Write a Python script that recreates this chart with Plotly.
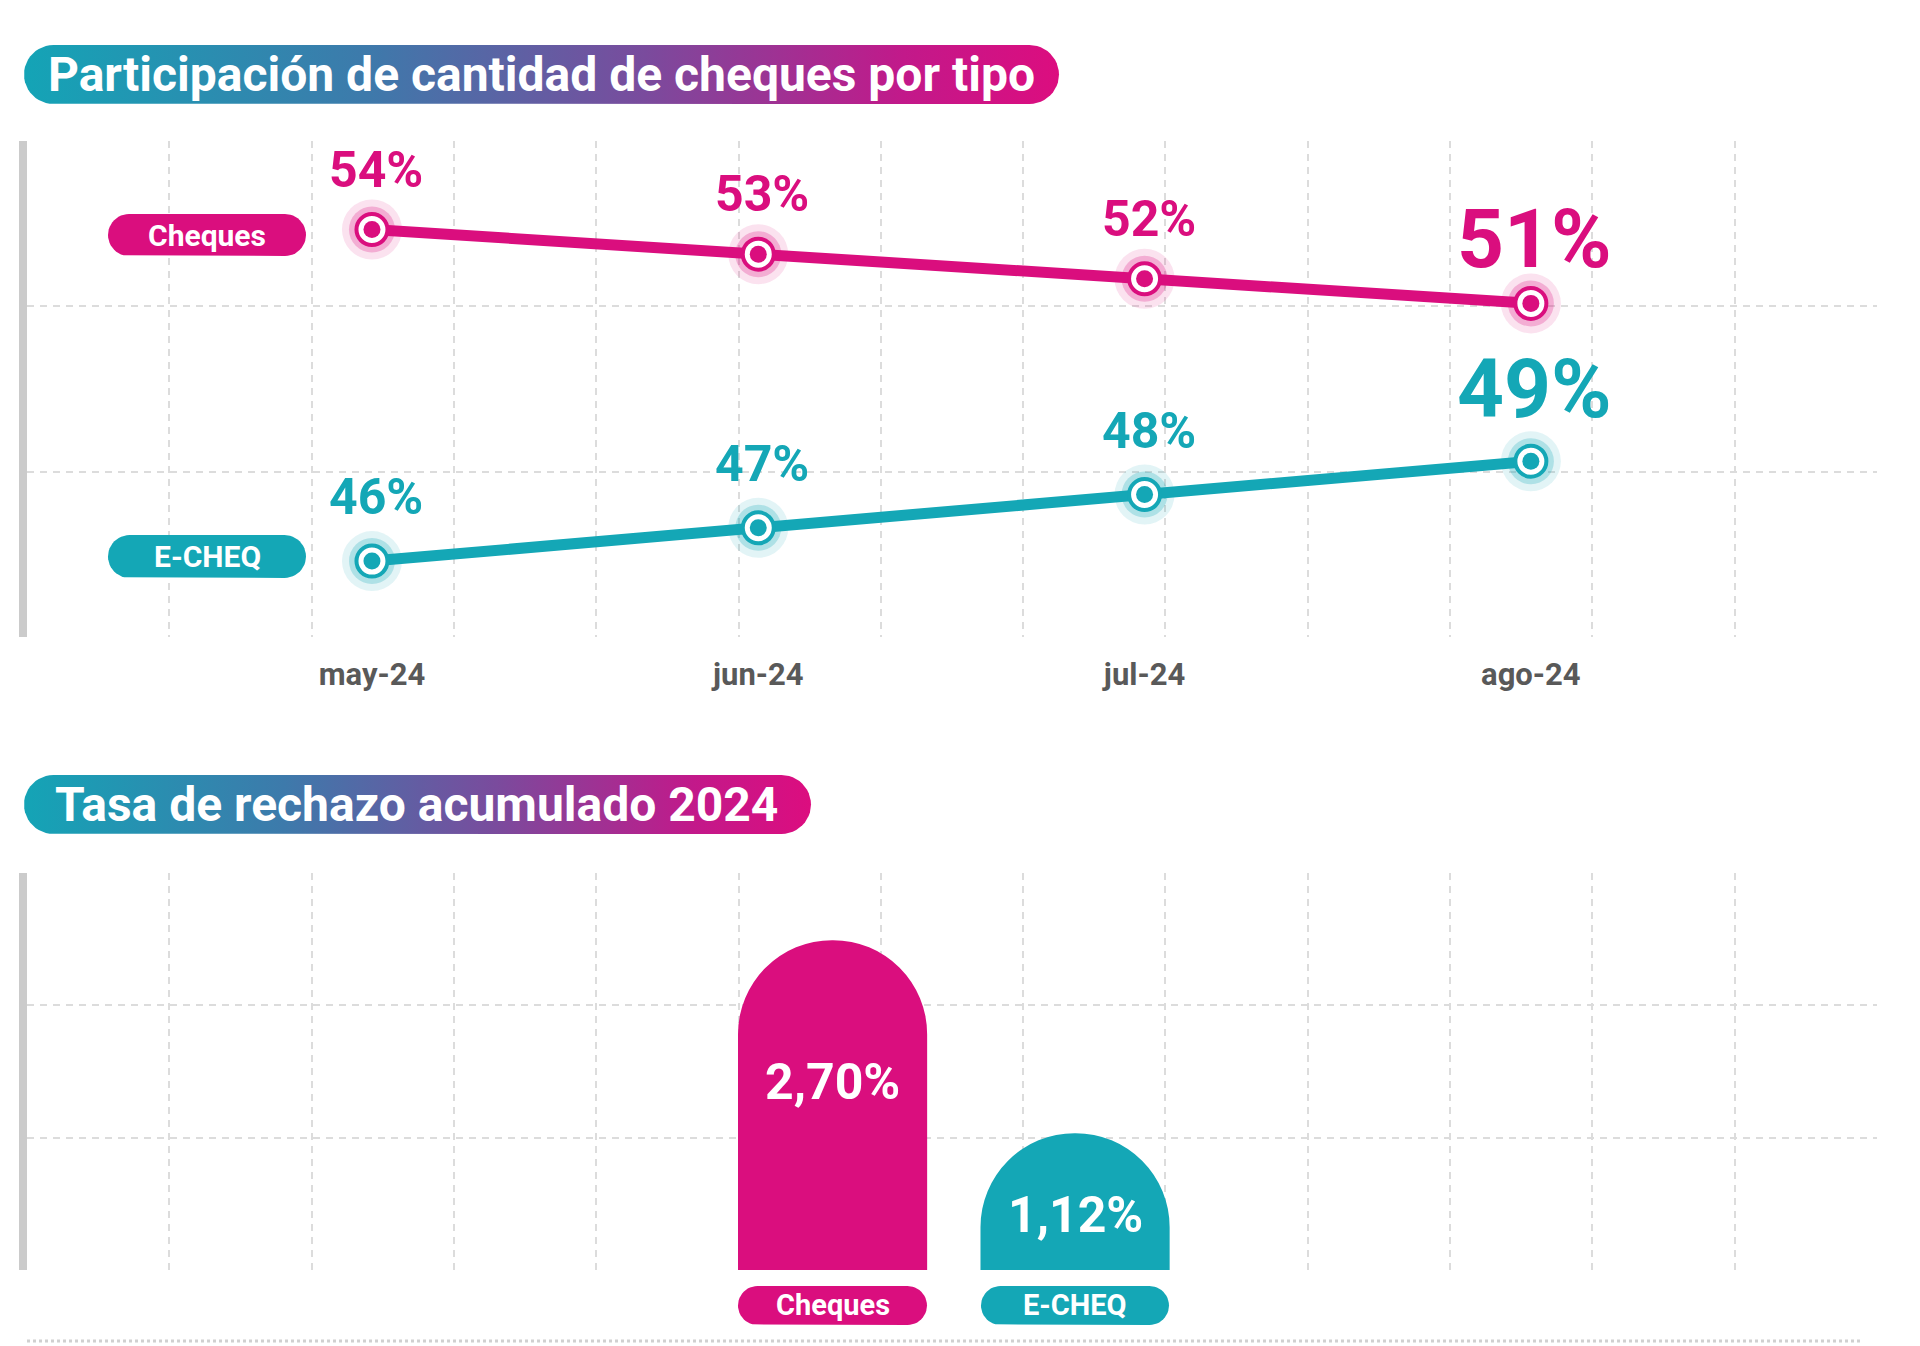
import plotly.graph_objects as go

# ---------------- data ----------------
months = ["may-24", "jun-24", "jul-24", "ago-24"]
cheques_share = [54, 53, 52, 51]
echeq_share = [46, 47, 48, 49]
series_names = ["Cheques", "E-CHEQ"]
rejection_rate = [2.70, 1.12]
title_top = "Participación de cantidad de cheques por tipo"
title_bottom = "Tasa de rechazo acumulado 2024"

# ---------------- style ----------------
W, H = 1920, 1346
PINK = "#da0e7e"
TEAL = "#14a7b6"
GRID = "#dcdcdc"
AXIS = "#cbcbcb"
FONT = "Roboto"


def rgba(hexc, a):
    hexc = hexc.lstrip("#")
    r, g, b = int(hexc[0:2], 16), int(hexc[2:4], 16), int(hexc[4:6], 16)
    return f"rgba({r},{g},{b},{a})"


def pill(x0, x1, y0, y1, n=24):
    import math
    r = (y1 - y0) / 2.0
    cy = (y0 + y1) / 2.0
    xs, ys = [], []
    for k in range(n + 1):
        a = -math.pi / 2 + math.pi * k / n
        xs.append(x1 - r + r * math.cos(a))
        ys.append(cy + r * math.sin(a))
    for k in range(n + 1):
        a = math.pi / 2 + math.pi * k / n
        xs.append(x0 + r + r * math.cos(a))
        ys.append(cy + r * math.sin(a))
    xs.append(xs[0])
    ys.append(ys[0])
    return xs, ys


fig = go.Figure()

# ---------- top chart: line chart ----------
x_idx = list(range(len(months)))
series = [
    (series_names[0], cheques_share, PINK, "y", 60, 64),
    (series_names[1], echeq_share, TEAL, "y2", 64, 72),
]
for name, vals, color, yref, shift_small, shift_big in series:
    fig.add_trace(go.Scatter(x=x_idx, y=vals, yaxis=yref, mode="markers",
                             marker=dict(size=60, color=rgba(color, 0.12), line=dict(width=0)),
                             hoverinfo="skip", showlegend=False))
    fig.add_trace(go.Scatter(x=x_idx, y=vals, yaxis=yref, mode="markers",
                             marker=dict(size=46, color=rgba(color, 0.25), line=dict(width=0)),
                             hoverinfo="skip", showlegend=False))
    fig.add_trace(go.Scatter(x=x_idx, y=vals, yaxis=yref, mode="lines",
                             line=dict(color=color, width=11), name=name, showlegend=False))
    fig.add_trace(go.Scatter(x=x_idx, y=vals, yaxis=yref, mode="markers",
                             marker=dict(size=31, color="white", line=dict(width=4, color=color)),
                             hoverinfo="skip", showlegend=False))
    fig.add_trace(go.Scatter(x=x_idx, y=vals, yaxis=yref, mode="markers",
                             marker=dict(size=17, color=color, line=dict(width=0)),
                             hoverinfo="skip", showlegend=False))
    for i, v in enumerate(vals):
        last = i == len(vals) - 1
        fig.add_annotation(x=i, y=v, xref="x", yref=yref, text=f"<b>{v}%</b>",
                           showarrow=False, xanchor="center", yanchor="middle", xshift=4,
                           yshift=shift_big if last else shift_small,
                           font=dict(family=FONT, size=82 if last else 50, color=color))

# invisible trace to anchor the vertical-grid overlay axis
fig.add_trace(go.Scatter(x=[0], y=[cheques_share[0]], xaxis="x2", yaxis="y", mode="markers",
                         marker=dict(opacity=0), hoverinfo="skip", showlegend=False))

# ---------- bottom chart: bars ----------
fig.add_trace(go.Bar(x=series_names, y=rejection_rate, xaxis="x3", yaxis="y3",
                     marker=dict(color=[PINK, TEAL], cornerradius="50%", line=dict(width=0)),
                     width=0.78, hoverinfo="skip", showlegend=False))
label_pos = [0.57, 0.40]  # relative height of the value label inside each bar
for name, v, rel in zip(series_names, rejection_rate, label_pos):
    txt = f"{v:.2f}".replace(".", ",") + "%"
    fig.add_annotation(x=name, y=v * rel, xref="x3", yref="y3", text=f"<b>{txt}</b>",
                       showarrow=False, xanchor="center", yanchor="middle",
                       font=dict(family=FONT, size=50, color="white"))
fig.add_trace(go.Scatter(x=[0], y=[0], xaxis="x4", yaxis="y3", mode="markers",
                         marker=dict(opacity=0), hoverinfo="skip", showlegend=False))

# ---------- decorative pills (pixel overlay axes) ----------
title_grad = dict(type="horizontal",
                  colorscale=[[0, "#14a4b6"], [0.33, "#3d7aab"], [0.6, "#7a4b9d"],
                              [0.85, "#c2198a"], [1, "#dc0d7f"]])
for (x0, x1, y0, y1) in [(24, 1059, 45, 104), (24, 811, 775, 834)]:
    xs, ys = pill(x0, x1, y0, y1)
    fig.add_trace(go.Scatter(x=xs, y=ys, xaxis="x5", yaxis="y5", mode="lines",
                             line=dict(width=0), fill="toself", fillgradient=title_grad,
                             hoverinfo="skip", showlegend=False))

pill_boxes = [
    ((108, 306, 214, 256), PINK),
    ((108, 306, 535, 578), TEAL),
    ((738, 927, 1286, 1325), PINK),
    ((981, 1169, 1286, 1325), TEAL),
]
for (x0, x1, y0, y1), color in pill_boxes:
    xs, ys = pill(x0, x1, y0, y1)
    fig.add_trace(go.Scatter(x=xs, y=ys, xaxis="x5", yaxis="y5", mode="lines",
                             line=dict(width=0), fill="toself", fillcolor=color,
                             hoverinfo="skip", showlegend=False))

common_ann = dict(showarrow=False, xanchor="center", yanchor="middle", xref="paper", yref="paper")
# titles
fig.add_annotation(x=541 / W, y=1 - 74 / H, text=f"<b>{title_top}</b>",
                   font=dict(family=FONT, size=48, color="white"), **common_ann)
fig.add_annotation(x=416 / W, y=1 - 804 / H, text=f"<b>{title_bottom}</b>",
                   font=dict(family=FONT, size=48, color="white"), **common_ann)
# series labels (top)
fig.add_annotation(x=207 / W, y=1 - 235 / H, text=f"<b>{series_names[0]}</b>",
                   font=dict(family=FONT, size=30, color="white"), **common_ann)
fig.add_annotation(x=207 / W, y=1 - 556 / H, text=f"<b>{series_names[1]}</b>",
                   font=dict(family=FONT, size=30, color="white"), **common_ann)
# category labels (bottom)
for name in series_names:
    fig.add_annotation(x=name, xref="x3", y=1 - 1305 / H, yref="paper", text=f"<b>{name}</b>",
                       showarrow=False, xanchor="center", yanchor="middle",
                       font=dict(family=FONT, size=29, color="white"))

# bottom dotted rule
fig.add_shape(type="line", xref="paper", yref="paper", x0=27 / W, x1=1861 / W,
              y0=1 - 1341 / H, y1=1 - 1341 / H, line=dict(color="#d0d0d0", width=3, dash="dot"))

# ---------------- axes ----------------
XDOM = [27 / W, 1877 / W]
TOP_DOM = [1 - 637 / H, 1 - 141 / H]
BOT_DOM = [1 - 1270 / H, 1 - 873 / H]

# Cheques scale
c_lo, c_hi = 37.44, 57.60
c_d = (c_hi - c_lo) / 3
# E-CHEQ scale
e_lo, e_hi = 43.72, 58.62
# bar scale
b_hi = 3.25
b_d = b_hi / 3
eps = 1e-6

grid_common = dict(showgrid=True, gridcolor=GRID, gridwidth=2, griddash="7px,6px", zeroline=False)

fig.update_layout(
    width=W, height=H,
    margin=dict(l=0, r=0, t=0, b=0),
    paper_bgcolor="white", plot_bgcolor="rgba(0,0,0,0)",
    showlegend=False,
    xaxis=dict(domain=XDOM, anchor="y", range=[-0.893, 3.896], tickvals=x_idx, ticktext=months,
               showgrid=False, zeroline=False, showline=False, ticks="outside", ticklen=10,
               tickcolor="rgba(0,0,0,0)",
               tickfont=dict(family=FONT, size=31, color="#595959", weight="bold")),
    xaxis2=dict(overlaying="x", anchor="y", range=[0 - eps, 13 + eps], tick0=0, dtick=1,
                showticklabels=False, ticks="", showline=False, **grid_common),
    yaxis=dict(domain=TOP_DOM, anchor="x", range=[c_lo - eps, c_hi + eps], tick0=c_lo, dtick=c_d,
               showticklabels=False, ticks="", showline=True, linecolor=AXIS, linewidth=8,
               **grid_common),
    yaxis2=dict(overlaying="y", anchor="x", range=[e_lo, e_hi], showgrid=False, zeroline=False,
                showticklabels=False, ticks="", showline=False),
    xaxis3=dict(domain=XDOM, anchor="y3", range=[-3.322, 4.307], showticklabels=False, ticks="",
                showgrid=False, zeroline=False, showline=False),
    xaxis4=dict(overlaying="x3", anchor="y3", range=[0 - eps, 13 + eps], tick0=0, dtick=1,
                showticklabels=False, ticks="", showline=False, **grid_common),
    yaxis3=dict(domain=BOT_DOM, anchor="x3", range=[0 - eps, b_hi + eps], tick0=0, dtick=b_d,
                showticklabels=False, ticks="", showline=True, linecolor=AXIS, linewidth=8,
                **grid_common),
    xaxis5=dict(domain=[0, 1], anchor="y5", range=[0, W], visible=False, fixedrange=True),
    yaxis5=dict(domain=[0, 1], anchor="x5", range=[H, 0], visible=False, fixedrange=True),
)

fig.write_html("out.html")
